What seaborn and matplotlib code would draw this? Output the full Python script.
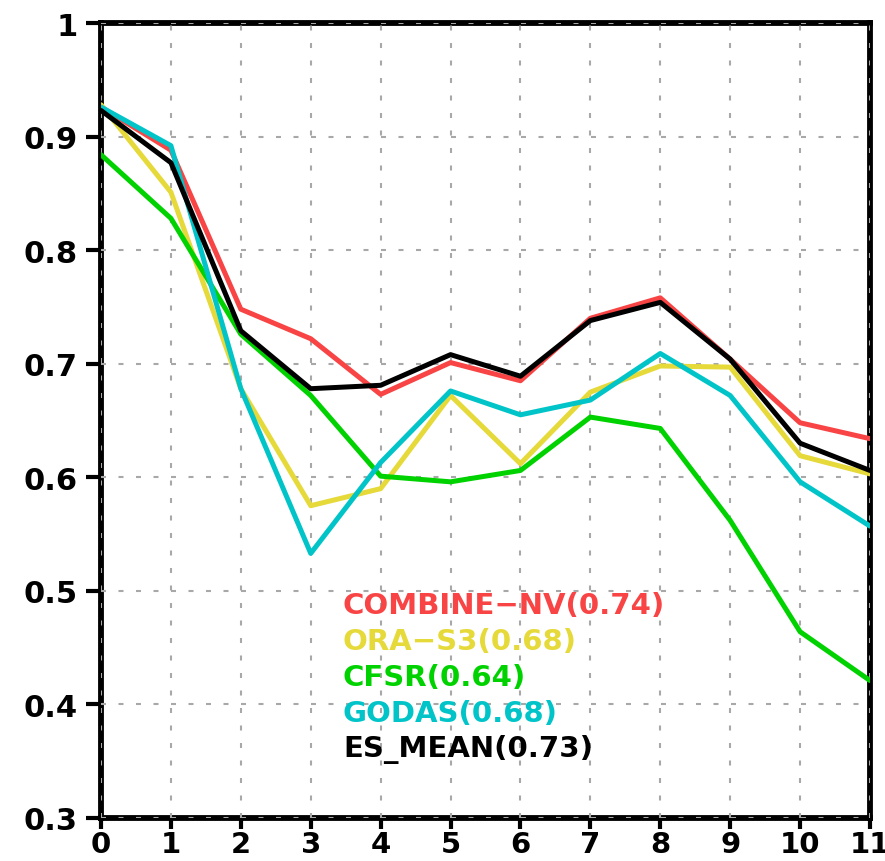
import numpy as np
import pandas as pd
import matplotlib
matplotlib.use("Agg")
import matplotlib.pyplot as plt
import seaborn as sns

lead = list(range(12))
combine_nv = [0.926, 0.888, 0.748, 0.722, 0.673, 0.701, 0.685, 0.740, 0.758, 0.704, 0.648, 0.634]
ora_s3 = [0.928, 0.851, 0.678, 0.575, 0.590, 0.672, 0.612, 0.675, 0.698, 0.697, 0.619, 0.603]
cfsr = [0.884, 0.828, 0.726, 0.672, 0.601, 0.596, 0.606, 0.653, 0.643, 0.562, 0.464, 0.421]
godas = [0.926, 0.892, 0.678, 0.533, 0.613, 0.676, 0.655, 0.668, 0.709, 0.672, 0.596, 0.557]
es_mean = [0.923, 0.877, 0.729, 0.678, 0.681, 0.708, 0.689, 0.738, 0.754, 0.704, 0.630, 0.606]

names = ["COMBINE\u2212NV(0.74)", "ORA\u2212S3(0.68)", "CFSR(0.64)", "GODAS(0.68)", "ES_MEAN(0.73)"]
series = [combine_nv, ora_s3, cfsr, godas, es_mean]
colors = ["#f84444", "#e6d93a", "#00d200", "#00c4c8", "#000000"]

df = pd.DataFrame({
    "lead": lead * len(series),
    "value": [v for s in series for v in s],
    "name": [n for n, s in zip(names, series) for _ in s],
})

sns.set_style("white")
plt.rcParams['font.family'] = ['DejaVu Sans']

fig = plt.figure(figsize=(8.85, 8.62), dpi=100)
ax = fig.add_axes([101/885, 1 - 819/862, (870 - 101)/885, (819 - 24)/862])

sns.lineplot(data=df, x="lead", y="value", hue="name", hue_order=names,
             palette=dict(zip(names, colors)), linewidth=3.6, legend=False,
             ax=ax, zorder=3, sort=False)

ax.set_xlim(0, 11)
ax.set_ylim(0.3, 1.0)
ax.set_xticks(range(12))
ax.set_yticks([0.3, 0.4, 0.5, 0.6, 0.7, 0.8, 0.9, 1.0])
ax.set_yticklabels(["0.3", "0.4", "0.5", "0.6", "0.7", "0.8", "0.9", "1"])
ax.set_xlabel("")
ax.set_ylabel("")

ax.set_axisbelow(False)
ax.grid(True, color="#a8a8a8", linestyle=(0, (2.4, 6.0)), linewidth=1.5)
for sp in ax.spines.values():
    sp.set_linewidth(4.2)
    sp.set_color("black")
    sp.set_zorder(1)

ax.tick_params(axis="y", which="major", direction="out", length=11, width=3,
               color="black", labelcolor="black", labelsize=22, pad=6, left=True)
ax.tick_params(axis="x", which="major", direction="out", length=8, width=3,
               color="black", labelcolor="black", labelsize=21, pad=1, bottom=True)
for lab in ax.get_xticklabels() + ax.get_yticklabels():
    lab.set_fontweight("bold")

ly0 = 0.4877
for i, (n, c) in enumerate(zip(names, colors)):
    ax.text(3.46, ly0 - i * 0.0317, n, color=c, fontsize=21, fontweight="bold",
            ha="left", va="center", zorder=4)

fig.savefig("out.png", dpi=100)
